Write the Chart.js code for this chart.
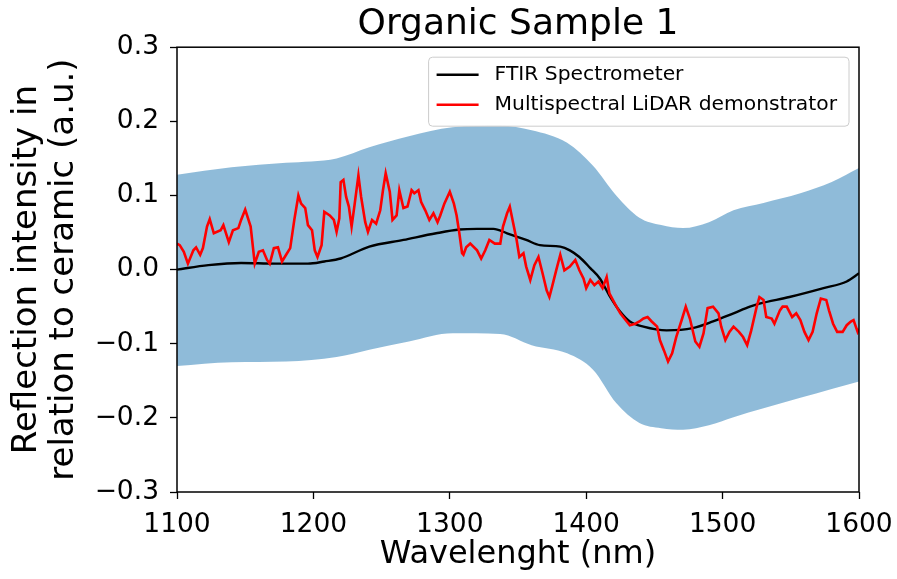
<!DOCTYPE html>
<html>
<head>
<meta charset="utf-8">
<title>Organic Sample 1</title>
<script src="https://cdn.jsdelivr.net/npm/chart.js@4.4.1/dist/chart.umd.min.js"></script>
<style>
  html, body { margin: 0; padding: 0; background: #ffffff; }
  #wrap { width: 897px; height: 579px; }
</style>
</head>
<body>
<div id="wrap"><canvas id="chart" width="897" height="579"></canvas></div>
<script>
// Multispectral LiDAR demonstrator trace (wavelength in nm, relative reflection)
const lidarNm = [1100,1102,1105,1108,1112,1114,1117,1119,1122,1124,1127,1132,1134,1138,1141,1145,1147,1150,1154,1157,
  1160,1163,1166,1168,1171,1174,1177,1180,1183,1186,1189,1191,1194,1196,1199,1201,1203,1206,1208,1212,
  1215,1217,1219,1220,1222,1224,1226,1228,1230,1233,1235,1238,1240,1243,1246,1249,1251,1253,1256,1258,
  1261,1263,1266,1269,1272,1274,1277,1279,1282,1285,1288,1291,1293,1296,1300,1303,1305,1307,1309,1310,
  1312,1315,1320,1323,1326,1329,1333,1337,1339,1342,1344,1346,1349,1351,1354,1356,1359,1362,1365,1368,
  1371,1373,1375,1378,1381,1384,1388,1392,1395,1398,1400,1403,1406,1409,1412,1415,1417,1421,1425,1428,
  1432,1436,1439,1442,1445,1448,1452,1454,1457,1460,1463,1466,1470,1473,1476,1480,1483,1486,1489,1493,
  1497,1499,1502,1505,1508,1512,1515,1518,1521,1525,1527,1530,1532,1536,1538,1542,1544,1547,1551,1554,
  1557,1560,1563,1566,1569,1572,1576,1578,1581,1584,1588,1591,1594,1596,1599,1600];
const lidarVal = [0.035,0.033,0.024,0.008,0.026,0.030,0.020,0.029,0.058,0.068,0.049,0.053,0.060,0.037,0.053,0.056,0.067,0.081,0.058,0.008,
  0.024,0.026,0.013,0.008,0.029,0.030,0.011,0.020,0.029,0.067,0.100,0.089,0.083,0.060,0.053,0.026,0.017,0.033,0.078,0.073,
  0.067,0.051,0.069,0.118,0.121,0.098,0.085,0.058,0.085,0.127,0.098,0.064,0.051,0.067,0.062,0.080,0.107,0.130,0.105,0.067,
  0.073,0.107,0.083,0.085,0.107,0.103,0.107,0.091,0.080,0.067,0.076,0.064,0.073,0.089,0.105,0.089,0.073,0.049,0.022,0.020,
  0.030,0.035,0.026,0.015,0.026,0.040,0.035,0.035,0.058,0.076,0.085,0.067,0.040,0.017,0.022,0.004,-0.014,0.006,0.017,-0.005,
  -0.028,-0.037,-0.023,-0.001,0.020,-0.001,0.004,0.013,-0.001,-0.012,-0.025,-0.014,-0.021,-0.016,-0.025,-0.010,-0.032,-0.046,-0.059,-0.066,
  -0.075,-0.073,-0.070,-0.066,-0.064,-0.070,-0.077,-0.095,-0.109,-0.124,-0.113,-0.091,-0.068,-0.050,-0.066,-0.097,-0.104,-0.086,-0.052,-0.050,
  -0.059,-0.077,-0.095,-0.084,-0.077,-0.084,-0.091,-0.102,-0.082,-0.050,-0.037,-0.041,-0.064,-0.066,-0.073,-0.055,-0.050,-0.050,-0.064,-0.059,
  -0.068,-0.084,-0.095,-0.084,-0.059,-0.039,-0.041,-0.055,-0.073,-0.084,-0.084,-0.075,-0.070,-0.068,-0.084,-0.080];

// FTIR spectrometer reference curve
const ftirNm = [1100,1123,1147,1172,1196,1208,1220,1241,1266,1290,1307,1320,1332,1342,1356,1366,1381,1388,1395,1403,
  1410,1417,1425,1432,1442,1459,1478,1493,1508,1520,1527,1549,1574,1591,1600];
const ftirVal = [0.000,0.006,0.009,0.008,0.008,0.011,0.015,0.031,0.040,0.049,0.054,0.055,0.055,0.049,0.040,0.033,0.031,0.026,0.017,0.002,
  -0.012,-0.035,-0.057,-0.070,-0.077,-0.082,-0.079,-0.070,-0.059,-0.050,-0.046,-0.037,-0.025,-0.016,-0.005];

// Uncertainty band around the FTIR curve
const bandNm    = [1100,1140,1180,1217,1241,1270,1302,1337,1360,1386,1405,1422,1439,1455,1471,1490,1508,1530,1557,1580,1600];
const bandUpper = [0.128,0.138,0.144,0.150,0.165,0.180,0.192,0.194,0.188,0.171,0.140,0.100,0.070,0.060,0.056,0.064,0.080,0.090,0.103,0.118,0.137];
const bandLower = [-0.130,-0.125,-0.124,-0.118,-0.108,-0.097,-0.086,-0.087,-0.102,-0.113,-0.135,-0.180,-0.207,-0.214,-0.216,-0.210,-0.199,-0.187,-0.173,-0.161,-0.151];

// Axis ticks
const xTicks = [1100, 1200, 1300, 1400, 1500, 1600];
const yTicks = [-0.3, -0.2, -0.1, 0.0, 0.1, 0.2, 0.3];

const FONT = '"DejaVu Sans", "Liberation Sans", sans-serif';
const toPoints = (xs, ys) => xs.map((x, i) => ({ x: x, y: ys[i] }));

// Black frame around the plotting area
const framePlugin = {
  id: 'frame',
  afterDatasetsDraw(chart) {
    const { ctx, chartArea: a } = chart;
    ctx.save();
    ctx.strokeStyle = '#000';
    ctx.lineWidth = 1.5;
    ctx.strokeRect(a.left, a.top, a.right - a.left, a.bottom - a.top);
    ctx.restore();
  }
};

// Legend box in the upper-right corner of the plot
const legendBoxPlugin = {
  id: 'legendBox',
  afterDraw(chart) {
    const { ctx, chartArea: a } = chart;
    const items = chart.data.datasets.filter(d => d.inLegend);
    ctx.save();
    ctx.font = '20.3px ' + FONT;
    const tw = Math.max(...items.map(d => ctx.measureText(d.label).width));
    const right = a.right - 10;
    const top = a.top + 10;
    const textX = right - 12 - tw;
    const hEnd = textX - 16;
    const hStart = hEnd - 42;
    const left = hStart - 8;
    const bottom = top + 69;
    const r = 4;
    ctx.beginPath();
    ctx.moveTo(left + r, top);
    ctx.lineTo(right - r, top);
    ctx.quadraticCurveTo(right, top, right, top + r);
    ctx.lineTo(right, bottom - r);
    ctx.quadraticCurveTo(right, bottom, right - r, bottom);
    ctx.lineTo(left + r, bottom);
    ctx.quadraticCurveTo(left, bottom, left, bottom - r);
    ctx.lineTo(left, top + r);
    ctx.quadraticCurveTo(left, top, left + r, top);
    ctx.closePath();
    ctx.fillStyle = 'rgba(255,255,255,0.8)';
    ctx.fill();
    ctx.strokeStyle = '#cccccc';
    ctx.lineWidth = 1;
    ctx.stroke();
    items.forEach((d, i) => {
      const y = top + 17.5 + i * 30;
      ctx.beginPath();
      ctx.moveTo(hStart, y);
      ctx.lineTo(hEnd, y);
      ctx.strokeStyle = d.borderColor;
      ctx.lineWidth = 2.5;
      ctx.stroke();
      ctx.fillStyle = '#000';
      ctx.textAlign = 'left';
      ctx.textBaseline = 'middle';
      ctx.fillText(d.label, textX, y);
    });
    ctx.restore();
  }
};

const fmtY = v => {
  if (Math.abs(v) < 1e-9) return '0.0';
  return (v < 0 ? '\u2212' : '') + Math.abs(v).toFixed(1);
};

new Chart(document.getElementById('chart').getContext('2d'), {
  type: 'line',
  data: {
    datasets: [
      {
        label: 'band upper',
        data: toPoints(bandNm, bandUpper),
        fill: '+1',
        backgroundColor: 'rgba(31,119,180,0.5)',
        borderColor: 'rgba(0,0,0,0)',
        borderWidth: 0,
        pointRadius: 0,
        cubicInterpolationMode: 'monotone',
        order: 3
      },
      {
        label: 'band lower',
        data: toPoints(bandNm, bandLower),
        fill: false,
        borderColor: 'rgba(0,0,0,0)',
        borderWidth: 0,
        pointRadius: 0,
        cubicInterpolationMode: 'monotone',
        order: 3
      },
      {
        label: 'FTIR Spectrometer',
        inLegend: true,
        data: toPoints(ftirNm, ftirVal),
        borderColor: '#000000',
        borderWidth: 2.4,
        pointRadius: 0,
        fill: false,
        cubicInterpolationMode: 'monotone',
        order: 2
      },
      {
        label: 'Multispectral LiDAR demonstrator',
        inLegend: true,
        data: toPoints(lidarNm, lidarVal),
        borderColor: '#ff0000',
        borderWidth: 2.6,
        pointRadius: 0,
        fill: false,
        tension: 0,
        order: 1
      }
    ]
  },
  options: {
    responsive: false,
    animation: false,
    devicePixelRatio: 1,
    layout: { padding: { left: 0, right: 38, top: 0, bottom: 0 } },
    plugins: {
      legend: { display: false },
      tooltip: { enabled: false },
      filler: { propagate: false },
      title: {
        display: true,
        text: 'Organic Sample 1',
        fullSize: false,
        color: '#000',
        font: { family: FONT, size: 36, weight: 'normal', lineHeight: 1.2 },
        padding: { top: 3, bottom: 1 }
      }
    },
    scales: {
      x: {
        type: 'linear',
        min: 1100,
        max: 1600,
        afterBuildTicks: s => { s.ticks = xTicks.map(v => ({ value: v })); },
        afterFit: s => { s.height = 87; s.paddingLeft = 0; s.paddingRight = 0; },
        ticks: {
          autoSkip: false, maxRotation: 0, color: '#000', padding: 10,
          font: { family: FONT, size: 26.5 },
          callback: v => String(v)
        },
        grid: { drawOnChartArea: false, drawTicks: true, tickLength: 7, tickWidth: 1.3, tickColor: '#000' },
        border: { display: false },
        title: {
          display: true, text: 'Wavelenght (nm)', color: '#000',
          font: { family: FONT, size: 32, lineHeight: 1.2 },
          padding: { top: 0, bottom: 5 }
        }
      },
      y: {
        type: 'linear',
        min: -0.3,
        max: 0.3,
        afterBuildTicks: s => { s.ticks = yTicks.map(v => ({ value: v })); },
        afterFit: s => { s.width = 177; },
        ticks: {
          autoSkip: false, color: '#000', padding: 11,
          font: { family: FONT, size: 26.5 },
          callback: v => fmtY(v)
        },
        grid: { drawOnChartArea: false, drawTicks: true, tickLength: 7, tickWidth: 1.3, tickColor: '#000' },
        border: { display: false },
        title: {
          display: true, text: ['Reflection intensity in', 'relation to ceramic (a.u.)'], color: '#000',
          font: { family: FONT, size: 34, lineHeight: 1.09 },
          padding: { top: 9, bottom: 0 }
        }
      }
    }
  },
  plugins: [framePlugin, legendBoxPlugin]
});
</script>
</body>
</html>
